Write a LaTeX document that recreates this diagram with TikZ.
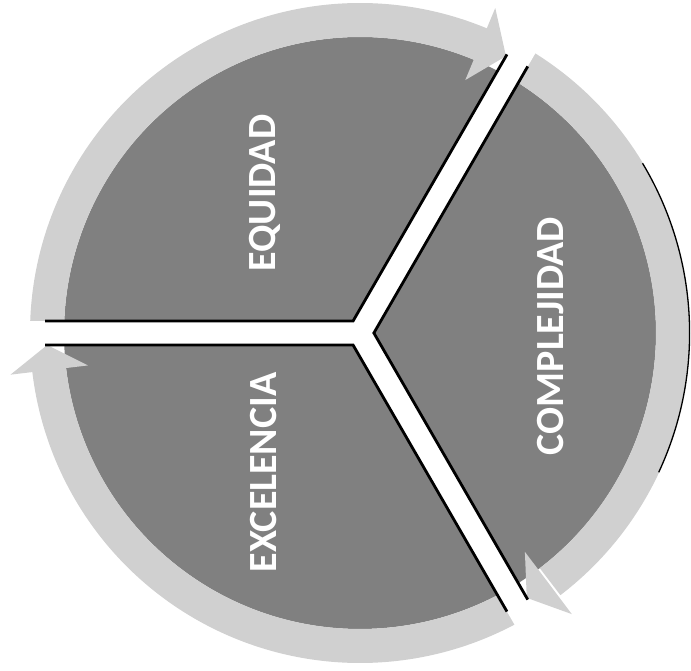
\documentclass[tikz,border=0pt]{standalone}
\usepackage{fontspec}
\setmainfont{Carlito}
\definecolor{sectorgray}{RGB}{128,128,128}
\definecolor{ringgray}{RGB}{208,208,208}
\begin{document}
\begin{tikzpicture}[x=1pt,y=1pt,
  sector/.style={fill=sectorgray},
  ringarrow/.style={fill=ringgray},
  gapcut/.style={draw=white,line width=24pt},
  gapline/.style={draw=black,line width=2.8pt,line join=miter},
  lbl/.style={text=white,font=\bfseries\fontsize{40}{40}\selectfont,rotate=90,inner sep=0pt}]
\useasboundingbox (-360,-337) rectangle (331,333);
% sectors
\path[sector] (120:13.86) -- (62.32:296) arc[start angle=62.32,end angle=177.68,radius=296] -- cycle;
\path[sector] (0:13.86) -- (-57.68:296) arc[start angle=-57.68,end angle=57.68,radius=296] -- cycle;
\path[sector] (240:13.86) -- (182.32:296) arc[start angle=182.32,end angle=297.68,radius=296] -- cycle;
% ring arrows
\path[ringarrow] (179:330) arc[start angle=179,end angle=67,radius=330] -- (67:296) arc[start angle=67,end angle=179,radius=296] -- cycle;
\path[ringarrow] (67.4:274) -- (67.4:352) -- (62.2:313) -- cycle;
\path[ringarrow] (59:330) arc[start angle=59,end angle=-52.6,radius=330] -- (-52.6:296) arc[start angle=-52.6,end angle=59,radius=296] -- cycle;
\path[ringarrow] (-53:274) -- (-53:352) -- (-57.8:313) -- cycle;
\path[ringarrow] (-61:330) arc[start angle=-61,end angle=-173.6,radius=330] -- (-173.6:296) arc[start angle=-173.6,end angle=-61,radius=296] -- cycle;
\path[ringarrow] (-173.2:274) -- (-173.2:352) -- (-177.8:313) -- cycle;
% gaps
\draw[gapcut] (180:200) -- (180:370);
\draw[gapcut] (60:200) -- (60:370);
\draw[gapcut] (-60:200) -- (-60:370);
% gap edge lines
\draw[gapline] (62.18:315) -- (120:13.86) -- (177.82:315);
\draw[gapline] (-57.82:315) -- (0:13.86) -- (57.82:315);
\draw[gapline] (182.18:315) -- (240:13.86) -- (297.82:315);
% right shadow arc
\draw[line width=1.3pt] (31:329.6) arc[start angle=31,end angle=-25,radius=329.6];
% labels
\node[lbl] (equidad) at (-95,140) {EQUIDAD};
\node[lbl] (complejidad) at (191,-3) {COMPLEJIDAD};
\node[lbl] (excelencia) at (-96.5,-139.5) {EXCELENCIA};
\end{tikzpicture}
\end{document}
